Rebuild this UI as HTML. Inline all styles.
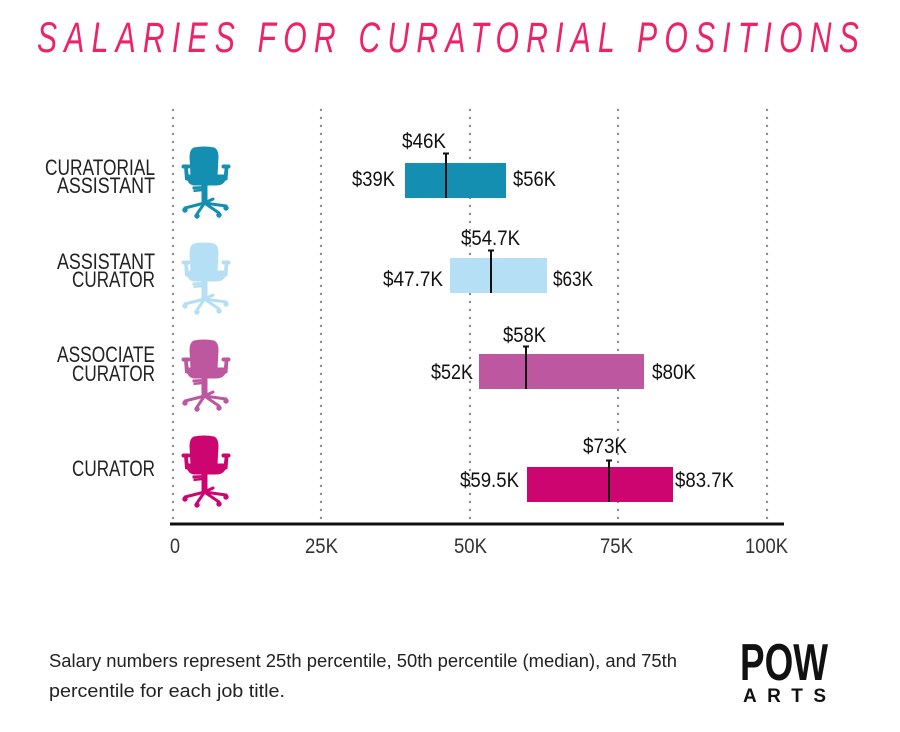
<!DOCTYPE html>
<html>
<head>
<meta charset="utf-8">
<style>
  html, body { margin: 0; padding: 0; background: #ffffff; }
  svg { display: block; }
  text { font-family: "Liberation Sans", sans-serif; }
</style>
</head>
<body>
<svg width="900" height="732" viewBox="0 0 900 732" xmlns="http://www.w3.org/2000/svg">
  <defs>
    <g id="chair">
      <!-- backrest -->
      <path d="M12,1 Q22,-1 32,1 Q36,3 36,10 L35,29 L9,29 L8,10 Q8,3 12,1 Z"/>
      <!-- seat -->
      <path d="M7,28 L42,28 Q44,29 43,33 Q41,38 34,38 L14,38 Q7,38 6,33 Q5,29 7,28 Z"/>
      <!-- arms -->
      <rect x="0" y="18" width="8" height="3" rx="1.5"/>
      <path d="M2.5,19 L5.1,19 L6.5,31 L9,32 L9,34.5 L3.5,32.5 Z"/>
      <rect x="40" y="18" width="8" height="3" rx="1.5"/>
      <path d="M46,19 L43.4,19 L42,31 L40,32 L40,34.5 L45,32.5 Z"/>
      <!-- mechanism levers -->
      <path d="M11,40 L22,39.5 L22,41 L11,41.8 Z"/>
      <path d="M12,43 L22,42 L22,43.5 L12,44.6 Z"/>
      <!-- column -->
      <rect x="20" y="37" width="5" height="18"/>
      <!-- base legs -->
      <g stroke-width="3" stroke-linecap="round" fill="none">
        <line x1="22.5" y1="56" x2="3" y2="61"/>
        <line x1="22.5" y1="56" x2="15" y2="67"/>
        <line x1="22.5" y1="56" x2="37" y2="66"/>
        <line x1="22.5" y1="56" x2="44" y2="59"/>
        <line x1="22.5" y1="56" x2="31" y2="52"/>
      </g>
      <circle cx="3" cy="63" r="2.2"/>
      <circle cx="15" cy="69" r="2.2"/>
      <circle cx="37" cy="68" r="2.2"/>
      <circle cx="44" cy="61" r="2.2"/>
    </g>
  </defs>

  <!-- Title -->
  <text transform="translate(37,52) scale(0.7,1)" x="0" y="0" font-size="43" font-style="italic" fill="#ee2266" textLength="1174" lengthAdjust="spacing">SALARIES FOR CURATORIAL POSITIONS</text>

  <!-- Gridlines (dotted) -->
  <g stroke="#8a8a8a" stroke-width="2.4" stroke-linecap="round" stroke-dasharray="0 8">
    <line x1="173" y1="110" x2="173" y2="520"/>
    <line x1="321" y1="110" x2="321" y2="520"/>
    <line x1="470" y1="110" x2="470" y2="520"/>
    <line x1="618" y1="110" x2="618" y2="520"/>
    <line x1="767" y1="110" x2="767" y2="520"/>
  </g>

  <!-- Axis line -->
  <rect x="170" y="522.5" width="614" height="3" fill="#111"/>

  <!-- Tick labels -->
  <g font-size="21" fill="#333">
    <text x="170" y="553" textLength="10" lengthAdjust="spacingAndGlyphs">0</text>
    <text x="305" y="553" textLength="33" lengthAdjust="spacingAndGlyphs">25K</text>
    <text x="454" y="553" textLength="33" lengthAdjust="spacingAndGlyphs">50K</text>
    <text x="600" y="553" textLength="33" lengthAdjust="spacingAndGlyphs">75K</text>
    <text x="745" y="553" textLength="43" lengthAdjust="spacingAndGlyphs">100K</text>
  </g>

  <!-- Category labels -->
  <g font-size="22" fill="#222" text-anchor="start">
    <text x="45" y="175" textLength="110" lengthAdjust="spacingAndGlyphs">CURATORIAL</text>
    <text x="57" y="193" textLength="98" lengthAdjust="spacingAndGlyphs">ASSISTANT</text>
    <text x="57" y="269" textLength="98" lengthAdjust="spacingAndGlyphs">ASSISTANT</text>
    <text x="72" y="287" textLength="83" lengthAdjust="spacingAndGlyphs">CURATOR</text>
    <text x="57" y="362" textLength="98" lengthAdjust="spacingAndGlyphs">ASSOCIATE</text>
    <text x="72" y="381" textLength="83" lengthAdjust="spacingAndGlyphs">CURATOR</text>
    <text x="72" y="476" textLength="83" lengthAdjust="spacingAndGlyphs">CURATOR</text>
  </g>

  <!-- Chairs -->
  <g fill="#148fb1" stroke="#148fb1" transform="translate(182,147)"><use href="#chair"/></g>
  <g fill="#b5dff5" stroke="#b5dff5" transform="translate(182,243)"><use href="#chair"/></g>
  <g fill="#bd57a0" stroke="#bd57a0" transform="translate(182,340)"><use href="#chair"/></g>
  <g fill="#cc0571" stroke="#cc0571" transform="translate(182,436)"><use href="#chair"/></g>

  <!-- Bars -->
  <rect x="405" y="163" width="101" height="35" fill="#148fb1"/>
  <rect x="450" y="258" width="97" height="35" fill="#b5dff5"/>
  <rect x="479" y="354" width="165" height="35" fill="#bd57a0"/>
  <rect x="527" y="467" width="146" height="35" fill="#cc0571"/>

  <!-- Median lines -->
  <g stroke="#111" stroke-width="2">
    <line x1="446" y1="153" x2="446" y2="198"/>
    <line x1="443" y1="153.5" x2="449" y2="153.5"/>
    <line x1="491" y1="250" x2="491" y2="293"/>
    <line x1="488" y1="250.5" x2="494" y2="250.5"/>
    <line x1="526" y1="346" x2="526" y2="389"/>
    <line x1="523" y1="346.5" x2="529" y2="346.5"/>
    <line x1="609" y1="460" x2="609" y2="502"/>
    <line x1="606" y1="460.5" x2="612" y2="460.5"/>
  </g>

  <!-- Value labels -->
  <g font-size="21" fill="#111">
    <text x="402" y="148" textLength="44" lengthAdjust="spacingAndGlyphs">$46K</text>
    <text x="352" y="186" textLength="43" lengthAdjust="spacingAndGlyphs">$39K</text>
    <text x="513" y="186" textLength="43" lengthAdjust="spacingAndGlyphs">$56K</text>

    <text x="461" y="245" textLength="59" lengthAdjust="spacingAndGlyphs">$54.7K</text>
    <text x="383" y="286" textLength="60" lengthAdjust="spacingAndGlyphs">$47.7K</text>
    <text x="553" y="286" textLength="40" lengthAdjust="spacingAndGlyphs">$63K</text>

    <text x="503" y="342" textLength="43" lengthAdjust="spacingAndGlyphs">$58K</text>
    <text x="431" y="379" textLength="42" lengthAdjust="spacingAndGlyphs">$52K</text>
    <text x="652" y="379" textLength="44" lengthAdjust="spacingAndGlyphs">$80K</text>

    <text x="583" y="453" textLength="44" lengthAdjust="spacingAndGlyphs">$73K</text>
    <text x="460" y="487" textLength="59" lengthAdjust="spacingAndGlyphs">$59.5K</text>
    <text x="675" y="487" textLength="59" lengthAdjust="spacingAndGlyphs">$83.7K</text>
  </g>

  <!-- Footer note -->
  <g font-size="18" fill="#222">
    <text x="49" y="667" textLength="628" lengthAdjust="spacingAndGlyphs">Salary numbers represent 25th percentile, 50th percentile (median), and 75th</text>
    <text x="49" y="697" textLength="236" lengthAdjust="spacingAndGlyphs">percentile for each job title.</text>
  </g>

  <!-- POW ARTS logo -->
  <text x="740" y="680" font-size="52" font-weight="bold" fill="#111" textLength="88" lengthAdjust="spacingAndGlyphs">POW</text>
  <text x="743" y="702" font-size="19" font-weight="bold" fill="#111" textLength="83" lengthAdjust="spacing">ARTS</text>
</svg>
</body>
</html>
